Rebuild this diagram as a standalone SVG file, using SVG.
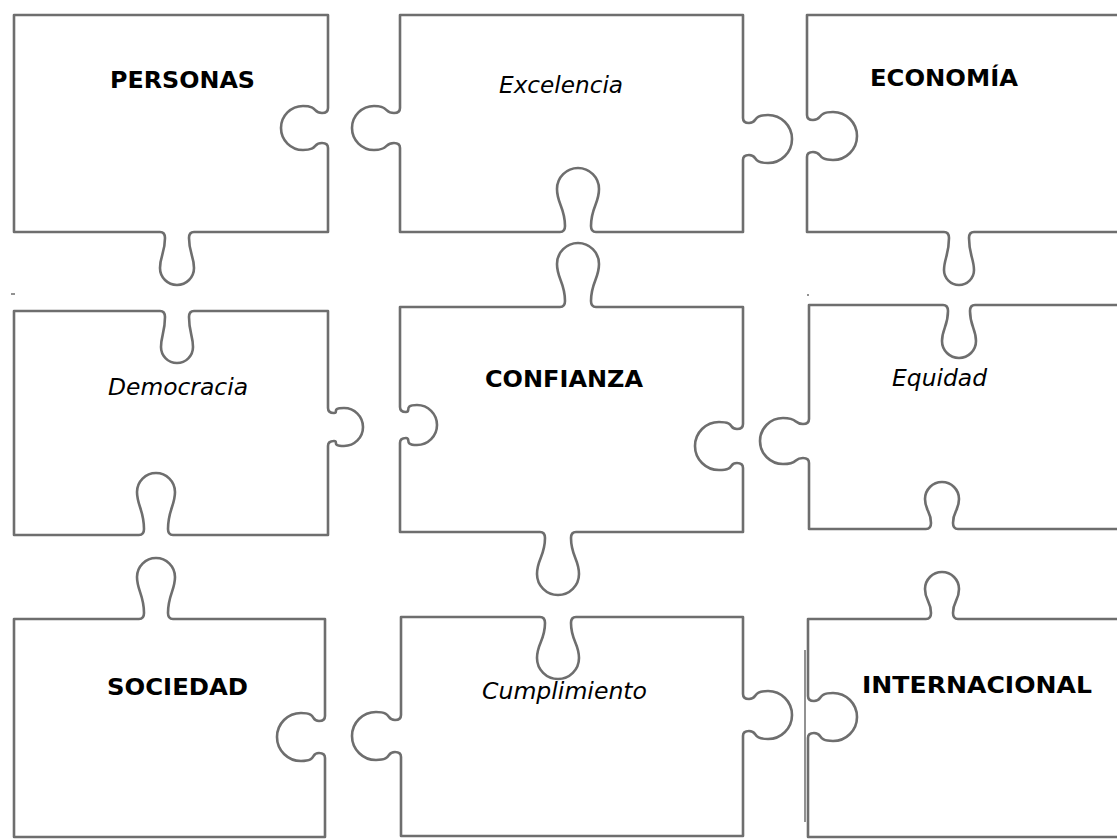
<svg xmlns="http://www.w3.org/2000/svg" width="1117" height="839" viewBox="0 0 1117 839">
  <style>
    .piece { fill: #ffffff; stroke: #6e6e6e; stroke-width: 2.6; stroke-linejoin: round; }
    .b { font-family: "DejaVu Sans", Verdana, sans-serif; font-weight: bold; font-size: 23px; fill: #000; }
    .i { font-family: "DejaVu Sans", Verdana, sans-serif; font-style: italic; font-size: 23px; fill: #000; }
    .mark { stroke: #6e6e6e; stroke-width: 1.5; }
  </style>
  <rect width="1117" height="839" fill="#ffffff"/>

  <g id="personas">
    <path class="piece" d="M 14 15 L 328 15 L 328 108 Q 328 113 322 113 C 312.5 113 318.4 106 303 106 A 22 22 0 0 0 303 150 C 318.4 150 312.5 143 322 143 Q 328 143 328 148 L 328 232 L 194 232 Q 189 232 189 238 C 189 253 194 256.1 194 268 A 17 17 0 0 1 160 268 C 160 256.1 165 253 165 238 Q 165 232 160 232 L 14 232 Z"/>
    <text class="b" x="110" y="88" textLength="145" lengthAdjust="spacingAndGlyphs">PERSONAS</text>
  </g>

  <g id="excelencia">
    <path class="piece" d="M 400 15 L 743 15 L 743 118 Q 743 123 749 123 C 758.5 123 751.2 115 768 115 A 24 24 0 0 1 768 163 C 751.2 163 758.5 155 749 155 Q 743 155 743 160 L 743 232 L 596 232 Q 591 232 591 226 C 591 207.5 599 203.7 599 189 A 21 21 0 0 0 557 189 C 557 203.7 565 207.5 565 226 Q 565 232 560 232 L 400 232 L 400 148 Q 400 143 394 143 C 384 143 389.4 150 374 150 A 22 22 0 0 1 374 106 C 389.4 106 384 113 394 113 Q 400 113 400 108 Z"/>
    <text class="i" x="499" y="93" textLength="124" lengthAdjust="spacingAndGlyphs">Excelencia</text>
  </g>

  <g id="economia">
    <path class="piece" d="M 807 15 L 1125 15 L 1125 232 L 974 232 Q 969 232 969 238 C 969 254 974 259.5 974 270 A 15 15 0 0 1 944 270 C 944 259.5 949 254 949 238 Q 949 232 944 232 L 807 232 L 807 157 Q 807 152 813 152 C 823 152 816.2 160 833 160 A 24 24 0 0 0 833 112 C 816.2 112 823 120 813 120 Q 807 120 807 115 Z"/>
    <text class="b" x="870" y="86" textLength="148" lengthAdjust="spacingAndGlyphs">ECONOMÍA</text>
  </g>

  <g id="democracia">
    <path class="piece" d="M 14 311 L 160 311 Q 165 311 165 317 C 165 332 161 335.8 161 347 A 16 16 0 0 0 193 347 C 193 335.8 189 332 189 317 Q 189 311 194 311 L 328 311 L 328 408 Q 328 413 334 413 C 339 413 330.7 408 344 408 A 19 19 0 0 1 344 446 C 330.7 446 339 441 334 441 Q 328 441 328 446 L 328 535 L 173 535 Q 168 535 168 529 C 168 510.5 175 505.3 175 492 A 19 19 0 0 0 137 492 C 137 505.3 144 510.5 144 529 Q 144 535 139 535 L 14 535 Z"/>
    <text class="i" x="108" y="395" textLength="140" lengthAdjust="spacingAndGlyphs">Democracia</text>
  </g>

  <g id="confianza">
    <path class="piece" d="M 400 307 L 560 307 Q 565 307 565 301 C 565 282.5 557 278.7 557 264 A 21 21 0 0 1 599 264 C 599 278.7 591 282.5 591 301 Q 591 307 596 307 L 743 307 L 743 424 Q 743 429 737 429 C 728 429 735.8 422 719 422 A 24 24 0 0 0 719 470 C 735.8 470 728 463 737 463 Q 743 463 743 468 L 743 532 L 576 532 Q 571 532 571 538 C 571 556 579 559.3 579 574 A 21 21 0 0 1 537 574 C 537 559.3 545 556 545 538 Q 545 532 540 532 L 400 532 L 400 443 Q 400 438 406 438 C 411.5 438 403 445 417 445 A 20 20 0 0 0 417 405 C 403 405 411.5 412 406 412 Q 400 412 400 407 Z"/>
    <text class="b" x="485" y="387" textLength="158" lengthAdjust="spacingAndGlyphs">CONFIANZA</text>
  </g>

  <g id="equidad">
    <path class="piece" d="M 809 305 L 943 305 Q 948 305 948 311 C 948 326 942 329.1 942 341 A 17 17 0 0 0 976 341 C 976 329.1 970 326 970 311 Q 970 305 975 305 L 1125 305 L 1125 529 L 958 529 Q 953 529 953 523 C 953 511 959 510.9 959 499 A 17 17 0 0 0 925 499 C 925 510.9 931 511 931 523 Q 931 529 926 529 L 809 529 L 809 463 Q 809 458 803 458 C 793 458 799.1 464 783 464 A 23 23 0 0 1 783 418 C 799.1 418 793 424 803 424 Q 809 424 809 419 Z"/>
    <text class="i" x="892" y="386" textLength="95" lengthAdjust="spacingAndGlyphs">Equidad</text>
  </g>

  <g id="sociedad">
    <path class="piece" d="M 14 619 L 139 619 Q 144 619 144 613 C 144 595 137 590.3 137 577 A 19 19 0 0 1 175 577 C 175 590.3 168 595 168 613 Q 168 619 173 619 L 325 619 L 325 716 Q 325 721 319 721 C 310 721 317.8 713 301 713 A 24 24 0 0 0 301 761 C 317.8 761 310 753 319 753 Q 325 753 325 758 L 325 837 L 14 837 Z"/>
    <text class="b" x="107" y="695" textLength="141" lengthAdjust="spacingAndGlyphs">SOCIEDAD</text>
  </g>

  <g id="cumplimiento">
    <path class="piece" d="M 401 617 L 540 617 Q 545 617 545 623 C 545 640.5 537 643.3 537 658 A 21 21 0 0 0 579 658 C 579 643.3 571 640.5 571 623 Q 571 617 576 617 L 743 617 L 743 694 Q 743 699 749 699 C 758.5 699 751.2 691 768 691 A 24 24 0 0 1 768 739 C 751.2 739 758.5 731 749 731 Q 743 731 743 736 L 743 836 L 401 836 L 401 757 Q 401 752 395 752 C 385.5 752 392.8 760 376 760 A 24 24 0 0 1 376 712 C 392.8 712 385.5 720 395 720 Q 401 720 401 715 Z"/>
    <text class="i" x="482" y="699" textLength="165" lengthAdjust="spacingAndGlyphs">Cumplimiento</text>
  </g>

  <g id="internacional">
    <path class="piece" d="M 808 619 L 926 619 Q 931 619 931 613 C 931 601 925 600.9 925 589 A 17 17 0 0 1 959 589 C 959 600.9 953 601 953 613 Q 953 619 958 619 L 1125 619 L 1125 837 L 808 837 L 808 738 Q 808 733 814 733 C 823.5 733 816.2 741 833 741 A 24 24 0 0 0 833 693 C 816.2 693 823.5 701 814 701 Q 808 701 808 696 Z"/>
    <line class="mark" x1="805" y1="650" x2="805" y2="822"/>
    <text class="b" x="862" y="693" textLength="230" lengthAdjust="spacingAndGlyphs">INTERNACIONAL</text>
  </g>

  <g id="connectors"></g>

  <g id="marks">
    <line class="mark" x1="11" y1="294" x2="15" y2="294"/>
    <line class="mark" x1="807" y1="295" x2="809" y2="295"/>
  </g>
</svg>
